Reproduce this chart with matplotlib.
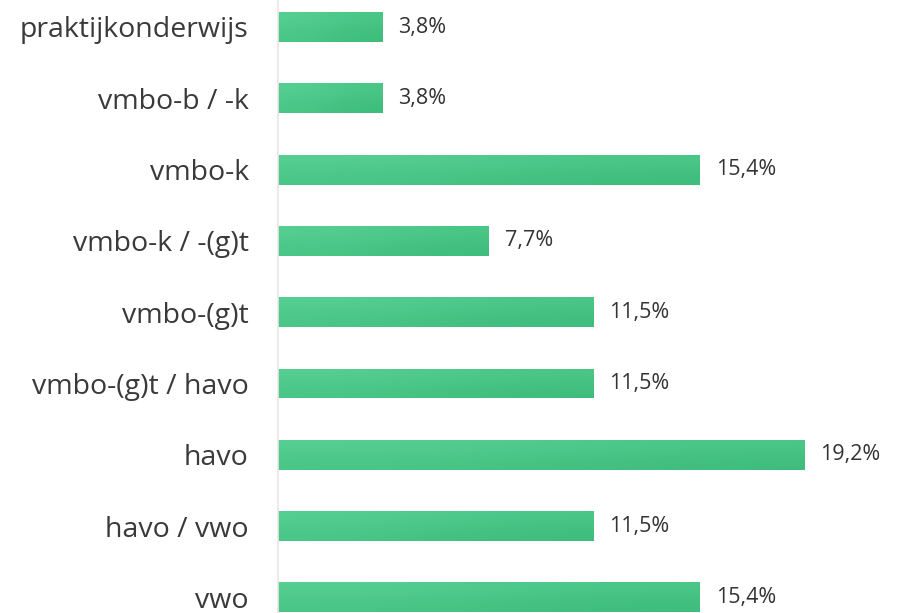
import matplotlib
matplotlib.use('Agg')
import matplotlib.pyplot as plt
import numpy as np
from matplotlib.colors import LinearSegmentedColormap

# categories and percentages
categories = ['praktijkonderwijs', 'vmbo-b / -k', 'vmbo-k', 'vmbo-k / -(g)t',
              'vmbo-(g)t', 'vmbo-(g)t / havo', 'havo', 'havo / vwo', 'vwo']
values = [3.8, 3.8, 15.4, 7.7, 11.5, 11.5, 19.2, 11.5, 15.4]

plt.rcParams['font.family'] = ['Open Sans', 'DejaVu Sans']

fig = plt.figure(figsize=(9.06, 6.13), dpi=100)
ax = fig.add_axes([278 / 906, 0, 628 / 906, 1])

y = np.arange(len(categories))
bars = ax.barh(y, values, height=0.42, color='#48c486', edgecolor='none')

# soft diagonal gradient on each bar, lighter top-left
cmap = LinearSegmentedColormap.from_list('g', ['#55cf92', '#3fbd7c'])
grad = np.array([[0.0, 0.5], [0.5, 1.0]])
for b in bars:
    x0, y0 = b.get_x(), b.get_y()
    w, h = b.get_width(), b.get_height()
    im = ax.imshow(grad, cmap=cmap, extent=(x0, x0 + w, y0 + h, y0),
                   aspect='auto', interpolation='bicubic', zorder=2)
    im.set_clip_path(b)

for yi, v in zip(y, values):
    ax.text(v + 0.58, yi, f'{v:.1f}%'.replace('.', ','), va='center', ha='left',
            fontsize=15.5, color='#333333')

ax.set_xlim(0, 628 / 27.4)
ax.set_ylim((613 - 27) / 71.3, -27 / 71.3)
ax.set_yticks(y)
ax.set_yticklabels(categories, fontsize=20.5, color='#3a3a3a')
ax.tick_params(axis='y', length=0, pad=21)
ax.set_xticks([])
for s in ['top', 'right', 'bottom']:
    ax.spines[s].set_visible(False)
ax.spines['left'].set_color('#f0e4e8')
ax.spines['left'].set_linewidth(1.2)

fig.savefig('out.png', dpi=100)
